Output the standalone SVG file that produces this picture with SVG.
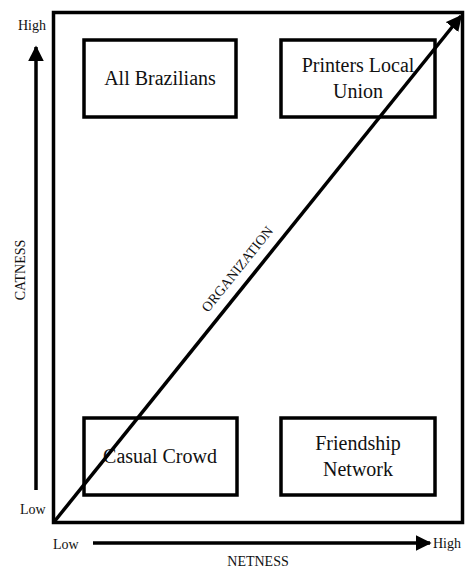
<svg xmlns="http://www.w3.org/2000/svg" width="465" height="573" viewBox="0 0 465 573">
<defs>
<marker id="ah" viewBox="0 0 10 10" refX="9" refY="5" markerWidth="4.5" markerHeight="4.5" orient="auto" markerUnits="strokeWidth">
<path d="M0,0 L10,5 L0,10 z" fill="#000"/>
</marker>
<style>
.box{fill:#fff;stroke:#000;stroke-width:3.5}
text{font-family:"Liberation Serif","Times New Roman","DejaVu Serif",serif;fill:#111}
.lbl{font-size:20px;text-anchor:middle}
.ax{font-size:14px}
.ln{stroke:#000;stroke-width:3.5;fill:none}
</style>
</defs>
<rect width="465" height="573" fill="#fff"/>
<rect id="frame" x="53.5" y="12.5" width="409" height="510" fill="none" stroke="#000" stroke-width="3.5"/>
<g id="all-brazilians">
<rect class="box" x="84" y="40" width="152" height="77"/>
<text class="lbl" x="160" y="85">All Brazilians</text>
</g>
<g id="printers-local-union">
<rect class="box" x="281" y="40" width="154" height="77"/>
<text class="lbl" x="358" y="72">Printers Local</text>
<text class="lbl" x="358" y="98">Union</text>
</g>
<g id="casual-crowd">
<rect class="box" x="84" y="418" width="153" height="77"/>
<text class="lbl" x="160" y="463">Casual Crowd</text>
</g>
<g id="friendship-network">
<rect class="box" x="281" y="418" width="154" height="77"/>
<text class="lbl" x="358" y="450">Friendship</text>
<text class="lbl" x="358" y="476">Network</text>
</g>
<g id="connectors">
<line class="ln" x1="54" y1="522" x2="461" y2="16" marker-end="url(#ah)"/>
<line class="ln" x1="36" y1="490" x2="36" y2="47" marker-end="url(#ah)"/>
<line class="ln" x1="93" y1="543" x2="430" y2="543" marker-end="url(#ah)"/>
</g>
<text class="ax" x="18" y="30">High</text>
<text class="ax" x="20" y="514">Low</text>
<text class="ax" x="53" y="549">Low</text>
<text class="ax" x="433" y="548">High</text>
<text class="ax" x="258" y="566" text-anchor="middle">NETNESS</text>
<text class="ax" x="0" y="0" text-anchor="middle" transform="translate(25,270) rotate(-90)">CATNESS</text>
<text class="ax" x="0" y="0" text-anchor="middle" transform="translate(241,272) rotate(-51.2)">ORGANIZATION</text>
</svg>
